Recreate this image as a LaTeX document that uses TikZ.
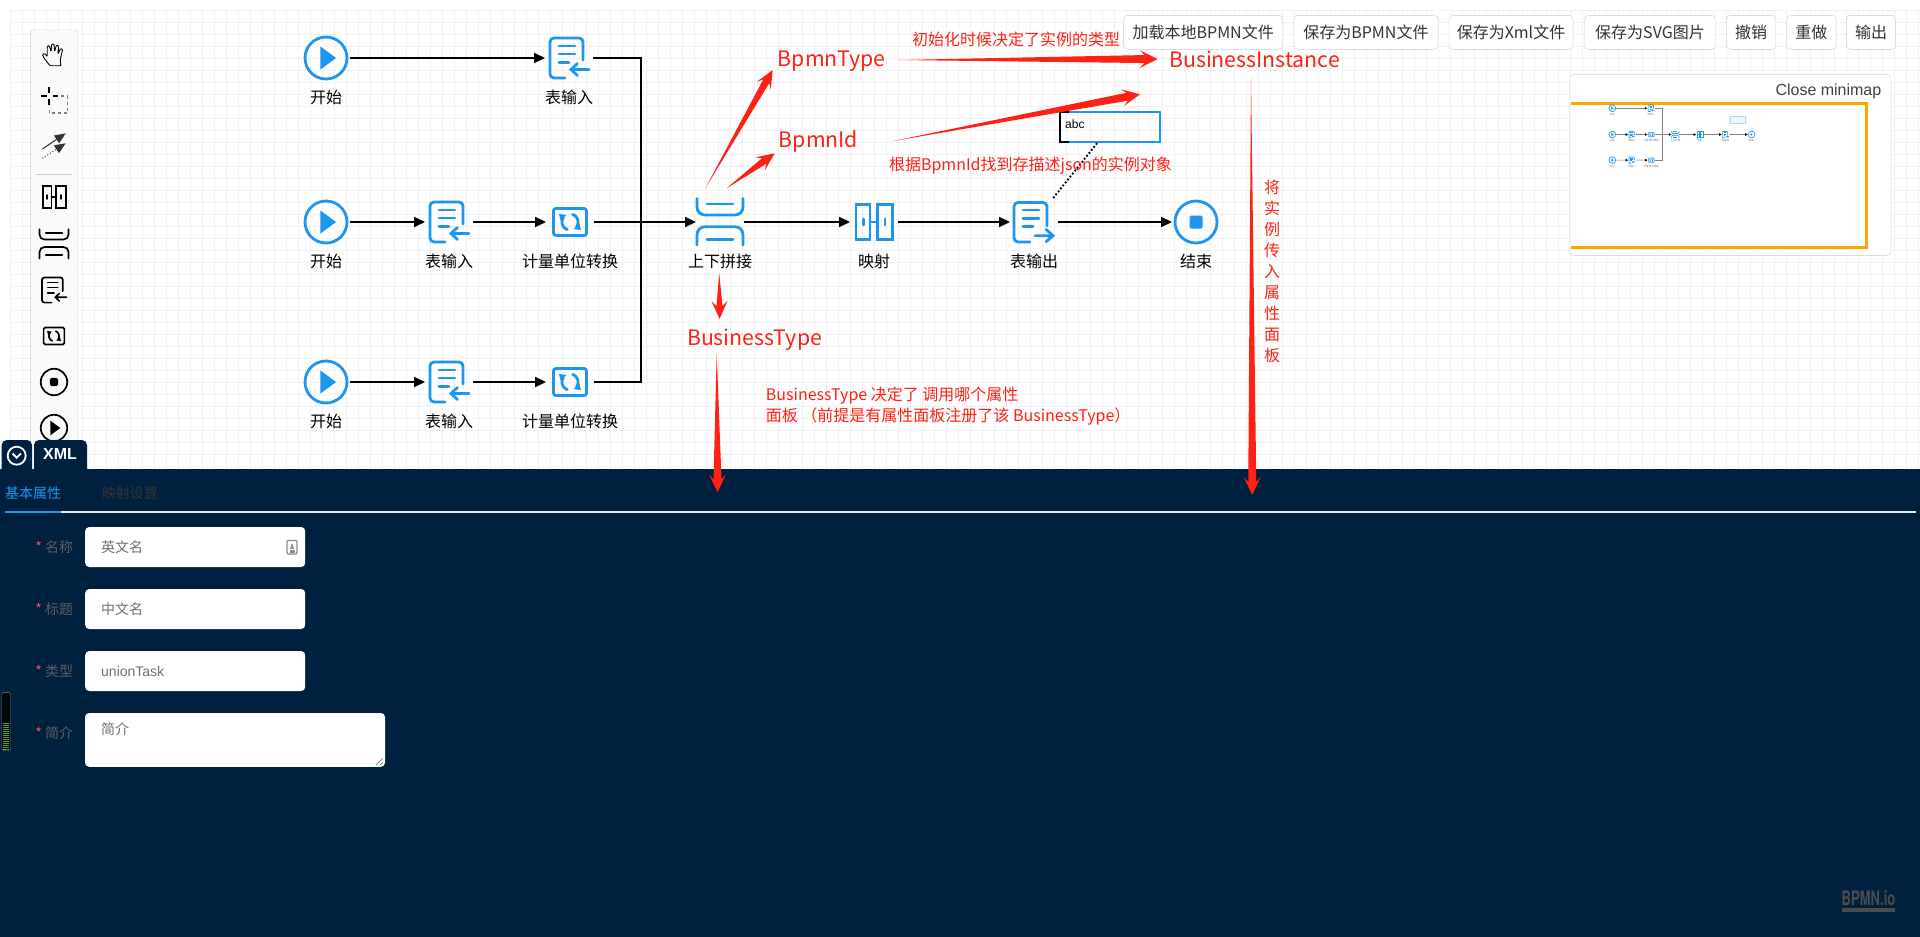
\documentclass[tikz,border=0pt]{standalone}
\usepackage{fontspec}
\setmainfont{Noto Sans CJK SC}
\newfontfamily\logofont{TeX Gyre Heros}
\newfontfamily\arialfont{Liberation Sans}
\usetikzlibrary{arrows.meta,calc}
\definecolor{bpmnblue}{HTML}{1E96F0}
\definecolor{redmark}{HTML}{FF2114}
\definecolor{panelnavy}{HTML}{002040}
\definecolor{gridgray}{HTML}{F1F1F1}
\definecolor{edgegray}{HTML}{CCCCCC}
\definecolor{labelgray}{HTML}{5C5F63}
\definecolor{hintgray}{HTML}{6E6E6E}
\definecolor{mapgold}{HTML}{FFA500}
\definecolor{offtab}{HTML}{30343A}
\tikzset{
  unionarc/.style={rounded corners=8pt},
  docarc/.style={rounded corners=4pt},
  boxarc/.style={rounded corners=2.5pt},
  flowbox/.style={minimum size=48pt,inner sep=0pt,outer sep=0pt},
  flowtext/.style={font=\fontsize{16}{18}\selectfont,inner sep=0pt},
  flowicon/.style={color=bpmnblue,line width=2.8pt,line cap=round},
  toolicon/.style={color=black,line width=1.7pt,line cap=round,scale=.63,
    unionarc/.style={rounded corners=5pt},docarc/.style={rounded corners=2.5pt},boxarc/.style={rounded corners=1.5pt}},
  seqline/.style={line width=2pt},
  seqarrow/.style={line width=2pt,-{Triangle[length=11pt,width=10pt]}},
  btnbox/.style={draw=edgegray,fill=white,rounded corners=4pt,minimum height=34pt,inner sep=0pt,
    text=black!80,font=\fontsize{16}{18}\selectfont},
  bigred/.style={text=redmark,inner sep=0pt,font=\fontsize{21.3}{25}\selectfont},
  smallred/.style={text=redmark,inner sep=0pt,font=\fontsize{16}{21}\selectfont},
  fieldbox/.style={fill=white,rounded corners=4pt,inner sep=0pt,minimum height=40pt,minimum width=220pt},
  formtext/.style={inner sep=0pt,font=\fontsize{14}{20}\selectfont},
  starticon/.pic={
    \draw (0,0) circle (21);
    \fill (-5.6,-11.5) -- (10,0) -- (-5.6,11.5) -- cycle;
  },
  endicon/.pic={
    \draw (0,0) circle (21);
    \fill[rounded corners=1.5pt] (-6.5,-6.5) rectangle (6.5,6.5);
  },
  inputicon/.pic={
    \draw[docarc] (-4,20) -- (-19,20) -- (-19,-20) -- (14,-20) -- (14,2);
    \draw (-10,-12) -- (6,-12) (-10,-4) -- (6,-4) (-10,4.5) -- (0,4.5);
    \draw (20,11.5) -- (2,11.5) (8.5,5.5) -- (2,11.5) -- (8.5,17.5);
  },
  outputicon/.pic={
    \draw[docarc] (-4,20) -- (-20,20) -- (-20,-19.5) -- (13,-19.5) -- (13,4);
    \draw (-11,-12) -- (5,-12) (-11,-3.7) -- (5,-3.7) (-11,4.7) -- (-1,4.7);
    \draw (1,13.7) -- (19,13.7) (12,7.3) -- (19,13.7) -- (12,19.7);
  },
  converticon/.pic={
    \draw[boxarc] (-16.5,-13.5) rectangle (16.5,13.5);
    \draw[smooth,domain=110:215,variable=\x] plot ({8*cos(\x)},{8*sin(\x)});
    \draw[smooth,domain=-70:35,variable=\x] plot ({8*cos(\x)},{8*sin(\x)});
    \fill (-11,-8) -- (-3.5,-7) -- (-9.5,-1.5) -- cycle;
    \fill (11,8) -- (3.5,7) -- (9.5,1.5) -- cycle;
  },
  unionicon/.pic={
    \draw[unionarc] (-23,-23.5) -- (-23,-7) -- (23,-7) -- (23,-23.5);
    \draw[unionarc] (-23,23) -- (-23,4.7) -- (23,4.7) -- (23,23);
    \draw (-13,-18) -- (13,-18) (-13,17.3) -- (13,17.3);
  },
  spliticon/.pic={
    \draw (-18,-17.5) rectangle (-4,17.5);
    \draw (3.3,-17.5) rectangle (18.7,17.5);
    \draw (-4,0) -- (3.3,0) (-10.7,-3) -- (-10.7,3) (11,-3) -- (11,3);
  }
}
\newcommand\flownode[5]{%
  \node[flowbox] (#1) at (#2,#3) {};
  \pic[flowicon] at (#1) {#4};
  \node[flowtext] (#1text) at (#2,#3+39) {#5};
}
\newcommand\flowgraph{%
  \flownode{st1}{326}{58}{starticon}{开始}
  \flownode{in1}{569}{58}{inputicon}{表输入}
  \flownode{st2}{326}{222}{starticon}{开始}
  \flownode{in2}{449}{222}{inputicon}{表输入}
  \flownode{cv2}{570}{222}{converticon}{计量单位转换}
  \flownode{st3}{326}{382}{starticon}{开始}
  \flownode{in3}{449}{382}{inputicon}{表输入}
  \flownode{cv3}{570}{382}{converticon}{计量单位转换}
  \flownode{un}{720}{222}{unionicon}{上下拼接}
  \flownode{mp}{874}{222}{spliticon}{映射}
  \flownode{outp}{1034}{222}{outputicon}{表输出}
  \flownode{fin}{1196}{222}{endicon}{结束}
  \coordinate (jn) at (641,222);
  \draw[seqarrow] (st1) -- (in1);
  \draw[seqarrow] (st2) -- (in2);
  \draw[seqarrow] (in2) -- (cv2);
  \draw[seqarrow] (st3) -- (in3);
  \draw[seqarrow] (in3) -- (cv3);
  \draw[seqline] (in1.east) -| (jn) |- (cv3.east);
  \draw[seqarrow] (cv2) -- (un);
  \draw[seqarrow] (un) -- (mp);
  \draw[seqarrow] (mp) -- (outp);
  \draw[seqarrow] (outp) -- (fin);
}
\newcommand\redarrow[4]{%
  \coordinate (neck) at ($(#2)!13pt!(#1)$);
  \coordinate (base) at ($(#2)!18pt!(#1)$);
  \fill[redmark] (#1) -- ($(neck)!#3pt!90:(#2)$) -- ($(base)!#4pt!90:(#2)$) -- (#2)
    -- ($(base)!#4pt!-90:(#2)$) -- ($(neck)!#3pt!-90:(#2)$) -- cycle;
}
\begin{document}
\begin{tikzpicture}[x=1pt,y=-1pt]
  \useasboundingbox (0,0) rectangle (1920,937);
  \fill[white] (0,0) rectangle (1920,937);
  \foreach \x in {10,22,...,1918}
    \draw[gridgray] (\x,10) -- (\x,469);
  \foreach \y in {10,22,...,466}
    \draw[gridgray] (10,\y) -- (1920,\y);

  \draw[edgegray,fill=black!2,rounded corners=1.5pt] (30.6,469) -- (30.6,30) -- (77.5,30) -- (77.5,469);
  \draw[color=black,line width=.9pt,rounded corners=.8pt] (50,65.7) -- (44,58) -- (42.4,54.5) -- (44.5,53.5)
    -- (47.3,56.5) -- (47.2,46.5) -- (49.3,45.5) -- (51,51.5) -- (51.8,44) -- (54,44) -- (54.6,51.5)
    -- (56.5,45) -- (58.6,46) -- (58,54) -- (60.5,48.5) -- (62.6,49.5) -- (60.2,60) -- (61,65.7) -- cycle;
  \draw[line width=2pt] (40.7,95.7) -- (46.5,95.7) (52.5,95.7) -- (58,95.7) (49.4,86.7) -- (49.4,92.5) (49.4,99) -- (49.4,105);
  \draw[gray,line width=1.2pt,dash pattern=on 3pt off 3pt] (61,96) -- (67.5,96) -- (67.5,113) -- (49.4,113) -- (49.4,107);
  \draw[black!80,line width=1pt,-{Triangle[length=11pt,width=9pt]}] (42.3,149) -- (65.7,133.3);
  \draw[black!80,line width=1pt,dotted,-{Triangle[length=11pt,width=9pt,sep=0pt]}] (42.3,158.3) -- (65.7,143.3);
  \draw[edgegray] (36,174) -- (71.5,174);
  \foreach \y/\ic in {197/spliticon,244/unionicon,290/inputicon,336/converticon,382/endicon,428/starticon}
    \pic[toolicon] at (54,\y) {\ic};

  \begin{scope}[name prefix=main-]
    \flowgraph
  \end{scope}

  \node[draw=bpmnblue,line width=2pt,minimum width=100pt,minimum height=30pt,inner sep=0pt,outer sep=0pt] (abcbox) at (1110,127) {};
  \draw[line width=2pt] (1069,111.7) -- (1059.6,111.7) -- (1059.6,142.3) -- (1069,142.3);
  \draw[line width=1.8pt,dotted] (main-outp) -- (abcbox);
  \node[font=\arialfont\fontsize{12}{14}\selectfont,inner sep=0pt,anchor=west] (abctext) at (1065,124) {abc};

  \node[bigred] (typetext) at (831.5,61.5) {BpmnType};
  \node[bigred] (idtext) at (818.5,141) {BpmnId};
  \node[bigred] (insttext) at (1254.6,59.5) {BusinessInstance};
  \node[bigred] (busitext) at (754.5,339.5) {BusinessType};
  \node[smallred] (initnote) at (1016,39.3) {初始化时候决定了实例的类型};
  \node[smallred] (findnote) at (1030.5,165.7) {根据BpmnId找到存描述json的实例对象};
  \node[smallred,align=center] (passnote) at (1272,271) {将\\实\\例\\传\\入\\属\\性\\面\\板};
  \node[smallred,align=left,anchor=west] (busnote) at (765.7,406.2) {BusinessType 决定了 调用哪个属性\\面板 （前提是有属性面板注册了该 BusinessType）};

  \coordinate (typetail) at (705.3,188.3);
  \coordinate (typetip) at (772.7,70);
  \coordinate (idtail) at (726.5,188.3);
  \coordinate (idtip) at (774.7,153.3);
  \coordinate (insttail) at (898,60);
  \coordinate (insttip) at (1157.6,59);
  \coordinate (findtail) at (891.8,141.3);
  \coordinate (findtip) at (1140,94.3);
  \coordinate (bustail) at (719.2,273.3);
  \coordinate (bustip) at (719.6,319);
  \coordinate (paneltail) at (716.7,353.3);
  \coordinate (paneltip) at (717.6,492.3);
  \coordinate (passtail) at (1251,77.3);
  \coordinate (passtip) at (1252.3,495);

  \node[btnbox,minimum width=159.2pt] (btnload) at (1203.2,32.3) {加载本地BPMN文件};
  \node[btnbox,minimum width=144.1pt] (btnbpmn) at (1365.9,32.3) {保存为BPMN文件};
  \node[btnbox,minimum width=124.1pt] (btnxml) at (1511,32.3) {保存为Xml文件};
  \node[btnbox,minimum width=131pt] (btnsvg) at (1650,32.3) {保存为SVG图片};
  \node[btnbox,minimum width=49.2pt] (btnundo) at (1751.1,32.3) {撤销};
  \node[btnbox,minimum width=49.3pt] (btnredo) at (1811.4,32.3) {重做};
  \node[btnbox,minimum width=49.3pt] (btnout) at (1871,32.3) {输出};

  \draw[edgegray,fill=white,rounded corners=4pt] (1569.9,74.3) rectangle (1891,255.3);
  \node[flowtext,anchor=east,text=black!75,font=\arialfont\fontsize{16}{18}\selectfont] (closemap) at (1881.5,91.7) {Close minimap};
  \draw[mapgold,line width=2.5pt] (1570.5,103.3) -- (1866.3,103.3) -- (1866.3,247.7) -- (1570.5,247.7);
  \begin{scope}[shift={(1560.1,99)},scale=.16,name prefix=mini-,every node/.append style={transform shape},
      unionarc/.style={rounded corners=1.2pt},docarc/.style={rounded corners=.6pt},boxarc/.style={rounded corners=.4pt},
      flowicon/.style={color=bpmnblue,line width=.7pt},
      seqline/.style={gray,line width=.6pt},
      seqarrow/.style={gray,line width=.6pt,-{Triangle[length=2.5pt,width=2.5pt,black]}},
      flowtext/.style={text=gray,font=\fontsize{16}{18}\selectfont,inner sep=0pt}]
    \flowgraph
  \end{scope}
  \node[draw=bpmnblue!40,fill=bpmnblue!8,line width=1.2pt,minimum width=15pt,minimum height=7pt,inner sep=0pt] (miniabc) at (1738,119.6) {};

  \fill[panelnavy,rounded corners=5pt] (1.7,480) -- (1.7,440) -- (32,440) -- (32,480);
  \fill[panelnavy,rounded corners=5pt] (34,480) -- (34,440) -- (87,440) -- (87,480);
  \fill[panelnavy] (0,469) rectangle (1920,937);
  \draw[white,line width=1.8pt] (16.7,455.7) circle (9);
  \draw[white,line width=1.8pt] (12.5,453.5) -- (16.7,457.7) -- (21,453.5);
  \node[flowtext,text=white,font=\arialfont\bfseries\fontsize{16}{18}\selectfont] (xmltab) at (60,454) {XML};

  \redarrow{typetail}{typetip}{3.5}{8}
  \redarrow{idtail}{idtip}{3.5}{8}
  \redarrow{insttail}{insttip}{4}{9}
  \redarrow{findtail}{findtip}{4}{8.5}
  \redarrow{bustail}{bustip}{3}{8}
  \redarrow{paneltail}{paneltip}{4}{8.5}
  \redarrow{passtail}{passtip}{4}{8.5}

  \node[formtext,text=bpmnblue,anchor=west] (tabbase) at (5,493.3) {基本属性};
  \node[formtext,text=offtab,anchor=west] (tabmap) at (101.7,493.3) {映射设置};
  \draw[black!8,line width=2pt] (5,511.7) -- (1916,511.7);
  \draw[bpmnblue,line width=2pt] (5,511.7) -- (61,511.7);

  \foreach \y/\lab/\hint/\nm in {547/名称/英文名/name,609/标题/中文名/title,671/类型/{\arialfont unionTask}/kind}{
    \node[fieldbox,anchor=west] (field\nm) at (85,\y) {};
    \node[formtext,text=hintgray,anchor=west] (hint\nm) at (101,\y) {\hint};
    \node[formtext,text=labelgray,anchor=west] (label\nm) at (45,\y) {\lab};
    \node[formtext,text=red!70!white,anchor=east] (star\nm) at (42,\y) {*};
  }
  \node[fill=white,rounded corners=4pt,inner sep=0pt,minimum width=300pt,minimum height=53.7pt] (fieldintro) at (235,739.9) {};
  \node[formtext,text=hintgray,anchor=west] (hintintro) at (101,729) {简介};
  \node[formtext,text=labelgray,anchor=west] (labelintro) at (45,733) {简介};
  \node[formtext,text=red!70!white,anchor=east] (starintro) at (42,733) {*};
  \draw[gray,line width=.7pt] (376,765) -- (383,758) (380,765) -- (383,762);
  \draw[black!45,line width=1.2pt,rounded corners=1pt] (287,540.5) rectangle (297,554);
  \fill[black!45] (292,543) -- (294,549) -- (290,549) -- cycle;
  \fill[black!45] (289.5,550) rectangle (294.5,552.5);

  \draw[gray,fill=black!85!panelnavy,rounded corners=2.5pt] (1.7,692.3) rectangle (10.7,750.7);
  \foreach \y in {723,725,...,749}
    \draw[green!60!black!80!white,line width=1pt] (3.4,\y) -- (9,\y);

  \node[text=black!70,inner sep=0pt,transform shape,xscale=.65,font=\logofont\bfseries\fontsize{20}{22}\selectfont] (bpmnlogo) at (1868.5,898.5) {BPMN.io};
  \fill[black!70] (1842,908) rectangle (1895,911.7);
\end{tikzpicture}
\end{document}
